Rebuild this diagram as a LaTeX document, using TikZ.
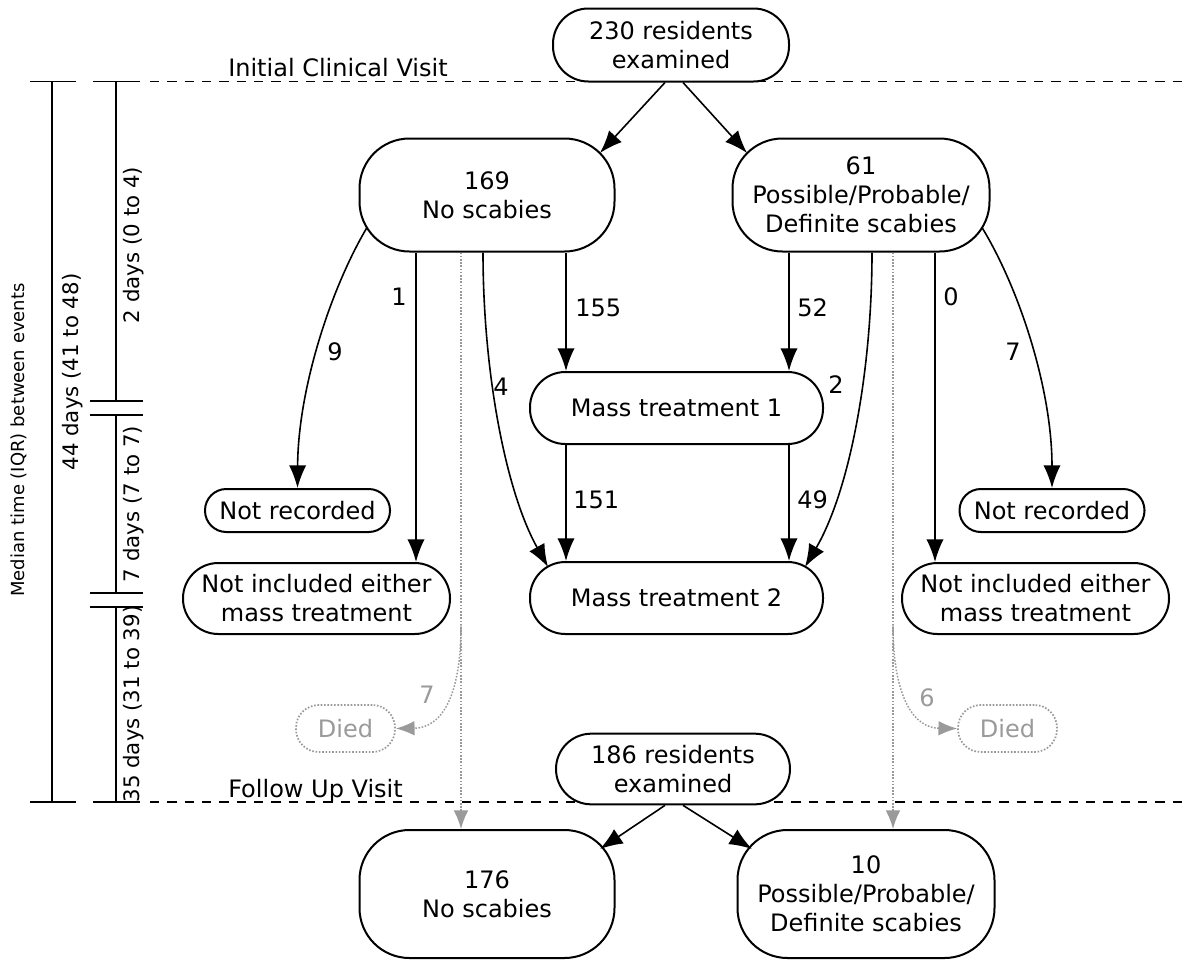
\documentclass[tikz,border=0pt]{standalone}
\usepackage{fontspec}
\setmainfont{DejaVu Sans}
\usetikzlibrary{arrows.meta,calc}
\definecolor{dgray}{HTML}{9A9A9A}
\begin{document}
\begin{tikzpicture}[x=0.75pt,y=-0.75pt,
  every node/.style={font=\fontsize{18}{21.75}\selectfont},
  pill/.style={draw, fill=white, line width=1.5pt, inner sep=0pt, align=center, rounded corners=26.5pt, minimum height=54pt},
  bigpill/.style={draw, fill=white, line width=1.5pt, inner sep=0pt, align=center, rounded corners=37.5pt, minimum height=84.75pt},
  smallpill/.style={draw, fill=white, line width=1.5pt, inner sep=0pt, align=center, rounded corners=16pt, minimum height=32.25pt, minimum width=138.75pt},
  diedbox/.style={draw=dgray, text=dgray, line width=1.3pt, dash pattern=on 1.2pt off 1.3pt, fill=white, inner sep=0pt, rounded corners=17pt, minimum height=35.25pt, minimum width=74.25pt},
  arr/.style={-{Latex[length=17pt,width=13pt]}, line width=1.2pt},
  garr/.style={-{Latex[length=14pt,width=11pt]}, draw=dgray, line width=1.1pt, dash pattern=on 1.2pt off 1.2pt},
  lbl/.style={inner sep=0pt},
  glbl/.style={inner sep=0pt, text=dgray},
  vlbl/.style={rotate=90, font=\fontsize{16}{19}\selectfont},
  dashline/.style={line width=1.2pt, dash pattern=on 7pt off 6pt},
  tl/.style={line width=1.4pt}
]
\useasboundingbox (0,0) rectangle (1189,971);

% visit lines
\draw[dashline] (150,81.5) -- (1189,81.5);
\draw[dashline] (150,802) -- (1189,802);
\node[anchor=base west, inner sep=0pt] (ivl) at (228,76) {Initial Clinical Visit};
\node[anchor=base west, inner sep=0pt] (fvl) at (228,797) {Follow Up Visit};

% timeline
\draw[tl] (30,81.5) -- (76,81.5);
\draw[tl] (52,81.5) -- (52,802);
\draw[tl] (30,802) -- (76,802);
\draw[tl] (93,81.5) -- (140,81.5);
\draw[tl] (116,81.5) -- (116,401);
\draw[tl] (90,401) -- (143,401);
\draw[tl] (90,415) -- (143,415);
\draw[tl] (116,415) -- (116,593);
\draw[tl] (90,593) -- (143,593);
\draw[tl] (90,607) -- (143,607);
\draw[tl] (116,607) -- (116,802);
\draw[tl] (93,802) -- (140,802);

\node[vlbl, font=\fontsize{13.5}{16}\selectfont] (lmed) at (19,440) {Median time (IQR) between events};
\node[vlbl] (l44) at (73,372) {44 days (41 to 48)};
\node[vlbl] (l2) at (134,245) {2 days (0 to 4)};
\node[vlbl] (l7) at (134,504) {7 days (7 to 7)};
\node[vlbl] (l35) at (134,704) {35 days (31 to 39)};

% nodes
\node[pill, minimum width=177pt, minimum height=54.75pt] (n230) at (671,45) {230 residents\\examined};
\node[bigpill, minimum width=191.25pt] (n169) at (487,195) {169\\No scabies};
\node[bigpill, minimum width=192.75pt] (n61) at (861,195) {61\\Possible/Probable/\\Definite scabies};
\node[pill, minimum width=219.75pt] (mt1) at (676.5,408) {Mass treatment 1};
\node[pill, minimum width=219.75pt] (mt2) at (676.5,598) {Mass treatment 2};
\node[smallpill] (nrL) at (297.5,510.5) {Not recorded};
\node[smallpill] (nrR) at (1052,510.5) {Not recorded};
\node[pill, minimum width=200.25pt, minimum height=53.25pt] (niL) at (316.5,598.5) {Not included either\\mass treatment};
\node[pill, minimum width=200.25pt, minimum height=53.25pt] (niR) at (1035.5,598.5) {Not included either\\mass treatment};
\node[diedbox] (diedL) at (345.5,728.5) {Died};
\node[diedbox] (diedR) at (1007.5,728.5) {Died};
\node[pill, minimum width=175.5pt, minimum height=53pt] (n186) at (673,769) {186 residents\\examined};
\node[bigpill, minimum width=191.25pt, minimum height=96pt] (n176) at (487,894) {176\\No scabies};
\node[bigpill, minimum width=192.75pt, minimum height=96pt] (n10) at (866,894) {10\\Possible/Probable/\\Definite scabies};

% helper x positions
\coordinate (cA) at (566,0);
\coordinate (cB) at (789,0);
\coordinate (c1) at (416,0);
\coordinate (c0) at (935,0);
\coordinate (c4) at (483,0);
\coordinate (c2) at (872,0);
\coordinate (cgl) at (461,0);
\coordinate (cgr) at (893,0);

% top arrows
\draw[arr] ($(n230.south)+(-6,0)$) -- ($(n169.center)+(113,-42)$);
\draw[arr] ($(n230.south)+(12,0)$) -- ($(n61.center)+(-114,-42)$);

% straight arrows
\draw[arr] (n169.south -| cA) -- (mt1.north -| cA);
\draw[arr] (n61.south -| cB) -- (mt1.north -| cB);
\draw[arr] (mt1.south -| cA) -- (mt2.north -| cA);
\draw[arr] (mt1.south -| cB) -- (mt2.north -| cB);
\draw[arr] (n169.south -| c1) -- (niL.north -| c1);
\draw[arr] (n61.south -| c0) -- (niR.north -| c0);

% curved arrows
\draw[arr] ($(n169.center)+(-120,32.5)$) .. controls (330,290) and (298,390) .. (nrL.north);
\draw[arr] ($(n61.center)+(121,32.5)$) .. controls (1020,290) and (1052,390) .. (nrR.north);
\draw[arr] (n169.south -| c4) .. controls (483,370) and (505,490) .. ($(mt2.center)+(-128.5,-31)$);
\draw[arr] (n61.south -| c2) .. controls (872,370) and (850,490) .. ($(mt2.center)+(128.5,-31)$);

% gray dotted
\draw[garr] (n169.south -| cgl) -- (n176.north -| cgl);
\draw[garr] (n61.south -| cgr) -- (n10.north -| cgr);
\coordinate (gl) at (461,625);
\coordinate (gr) at (893,625);
\draw[garr] (gl) .. controls (461,700) and (440,728) .. (diedL.east);
\draw[garr] (gr) .. controls (893,700) and (915,728) .. (diedR.west);

% bottom arrows
\draw[arr] ($(n186.south)+(-8,0)$) -- ($(n176.center)+(113,-45)$);
\draw[arr] ($(n186.south)+(10,0)$) -- ($(n10.center)+(-114,-45)$);

% labels
\node[lbl, anchor=west] (t155) at (575,308) {155};
\node[lbl, anchor=west] (t52) at (797,308) {52};
\node[lbl, anchor=west] (t151) at (573,500) {151};
\node[lbl, anchor=west] (t49) at (797,500) {49};
\node[lbl] (t1) at (399,297) {1};
\node[lbl] (t0) at (951,297) {0};
\node[lbl] (t9) at (335,352) {9};
\node[lbl] (t7) at (1013,352) {7};
\node[lbl] (t4) at (501,387) {4};
\node[lbl] (t2) at (836,385) {2};
\node[glbl] (g7) at (427,695) {7};
\node[glbl] (g6) at (927,698) {6};
\end{tikzpicture}
\end{document}
